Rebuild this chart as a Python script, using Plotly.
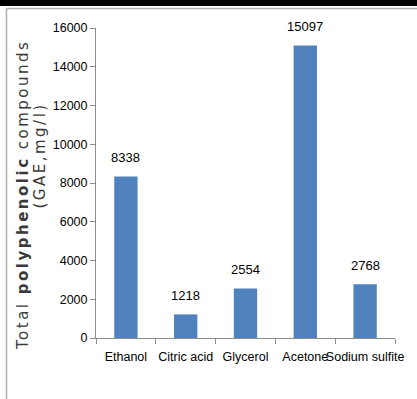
import plotly.graph_objects as go

# Solvent extraction results
solvents = ["Ethanol", "Citric acid", "Glycerol", "Acetone", "Sodium sulfite"]
tpc_values = [8338, 1218, 2554, 15097, 2768]
y_ticks = [0, 2000, 4000, 6000, 8000, 10000, 12000, 14000, 16000]

W, H = 417, 399
L, R, T, B = 96, 22, 28, 61
PW, PH = W - L - R, H - T - B

def px_x(px):
    return (px - L) / PW

def px_y(py):
    return (H - B - py) / PH

label_font = "Liberation Sans, Arial, sans-serif"

fig = go.Figure(
    go.Bar(
        x=solvents,
        y=tpc_values,
        marker=dict(color="#4F81BD", line=dict(width=0)),
        width=0.39,
        cliponaxis=False,
    )
)

# Value labels above each bar
for name, val in zip(solvents, tpc_values):
    fig.add_annotation(
        x=name, y=val, text=str(val), showarrow=False,
        xanchor="center", yanchor="middle", yshift=19,
        font=dict(family=label_font, size=13, color="black"),
    )

fig.update_layout(
    width=W,
    height=H,
    margin=dict(l=L, r=R, t=T, b=B, autoexpand=False),
    paper_bgcolor="white",
    plot_bgcolor="white",
    showlegend=False,
    xaxis=dict(
        automargin=False,
        tickangle=0,
        showline=True,
        linecolor="#8c8c8c",
        linewidth=1,
        ticks="outside",
        tickson="boundaries",
        ticklen=5,
        tickcolor="#8c8c8c",
        ticklabelstandoff=7,
        tickfont=dict(family=label_font, size=12.5, color="black"),
        showgrid=False,
    ),
    yaxis=dict(
        automargin=False,
        range=[0, 16000],
        tickvals=y_ticks,
        ticktext=[str(v) for v in y_ticks],
        showline=True,
        linecolor="#8c8c8c",
        linewidth=1,
        ticks="outside",
        ticklen=5,
        tickcolor="#8c8c8c",
        tickfont=dict(family=label_font, size=12.5, color="black"),
        showgrid=False,
        zeroline=False,
    ),
)

# Axis title as two separate rotated lines
fig.add_annotation(
    xref="paper", yref="paper",
    x=px_x(23), y=px_y(195),
    text="Total <b>polyphenolic</b> compounds",
    textangle=-90, showarrow=False,
    font=dict(family="DejaVu Sans", size=15, color="#3a3a3a"),
    xanchor="center", yanchor="middle",
)
fig.add_annotation(
    xref="paper", yref="paper",
    x=px_x(40), y=px_y(156),
    text="(GAE,mg/l)",
    textangle=-90, showarrow=False,
    font=dict(family="DejaVu Sans", size=15, color="#3a3a3a"),
    xanchor="center", yanchor="middle",
)

# Page frame: dark band on top, thin grey border
fig.add_shape(type="rect", xref="paper", yref="paper",
              x0=px_x(0), x1=px_x(W), y0=px_y(0), y1=px_y(6),
              fillcolor="black", line=dict(width=0), layer="above")
fig.add_shape(type="line", xref="paper", yref="paper",
              x0=px_x(6.5), x1=px_x(W), y0=px_y(8.5), y1=px_y(8.5),
              line=dict(color="#b0b0b0", width=1.5))
fig.add_shape(type="line", xref="paper", yref="paper",
              x0=px_x(6.5), x1=px_x(6.5), y0=px_y(8.5), y1=px_y(H),
              line=dict(color="#b0b0b0", width=1.5))

# Open up the letter spacing of the rotated axis title
spacing_js = """
var gd = document.getElementById('{plot_id}');
function spaceTitle() {
  gd.querySelectorAll('text.annotation-text').forEach(function (t) {
    if (t.textContent.indexOf('compounds') >= 0 || t.textContent.indexOf('GAE') >= 0) {
      t.style.letterSpacing = '2.5px';
    }
  });
}
spaceTitle();
gd.on('plotly_afterplot', spaceTitle);
"""

fig.write_html("out.html", post_script=spacing_js)
